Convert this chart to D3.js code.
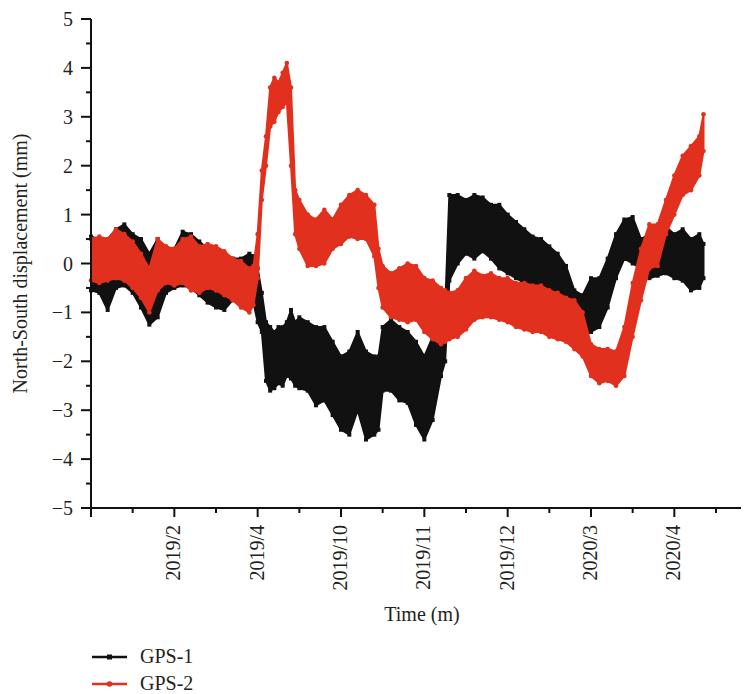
<!DOCTYPE html>
<html>
<head>
<meta charset="utf-8">
<script src="https://cdn.jsdelivr.net/npm/d3@7"></script>
<style>
  html, body { margin: 0; padding: 0; background: #fff; }
  svg text { font-family: "Liberation Serif", "DejaVu Serif", serif; fill: #231f20; }
</style>
</head>
<body>
<div id="chart"></div>
<script>
// time index: one unit per labelled month tick
const tIdx = [0, 0.1, 0.2, 0.3, 0.4, 0.5, 0.6, 0.7, 0.8, 0.9,
  1.0, 1.1, 1.2, 1.3, 1.4, 1.5, 1.6, 1.7, 1.8, 1.9, 1.95,
  2.0, 2.05, 2.1, 2.15, 2.2, 2.25, 2.3, 2.35, 2.4, 2.45, 2.5, 2.6, 2.7, 2.8, 2.9,
  3.0, 3.1, 3.2, 3.3, 3.4, 3.45, 3.5, 3.6, 3.7, 3.8, 3.9,
  4.0, 4.1, 4.2, 4.25, 4.3, 4.4, 4.5, 4.6, 4.7, 4.8, 4.9,
  5.0, 5.1, 5.2, 5.3, 5.4, 5.5, 5.6, 5.7, 5.8, 5.9,
  6.0, 6.1, 6.2, 6.3, 6.4, 6.5, 6.6, 6.7, 6.8, 6.9,
  7.0, 7.1, 7.2, 7.3, 7.35];

// GPS-1 upper / lower envelope of the noisy record (mm)
const gps1Hi = [0.55, 0.5, 0.5, 0.7, 0.8, 0.6, 0.5, 0.2, 0.5, 0.25,
  0.3, 0.65, 0.6, 0.45, 0.3, 0.3, 0.2, 0.1, 0.1, 0.2, 0.15,
  -0.1, -0.6, -1.2, -1.3, -1.4, -1.3, -1.3, -1.2, -0.95, -1.2, -1.1, -1.2, -1.3, -1.3, -1.6,
  -1.9, -1.8, -1.4, -1.8, -1.9, -1.9, -1.3, -1.15, -1.3, -1.4, -1.6,
  -1.9, -1.5, -1.2, -0.9, 1.4, 1.4, 1.3, 1.4, 1.35, 1.2, 1.2,
  1.0, 0.85, 0.7, 0.55, 0.5, 0.35, 0.2, -0.05, -0.55, -0.65,
  -0.3, -0.3, 0.1, 0.6, 0.9, 0.95, 0.5, 0.6, 0.7, 0.75,
  0.6, 0.7, 0.5, 0.6, 0.4];
const gps1Lo = [-0.55, -0.6, -0.95, -0.5, -0.45, -0.6, -0.9, -1.25, -1.1, -0.6,
  -0.5, -0.45, -0.5, -0.65, -0.8, -0.9, -0.95, -0.75, -0.8, -0.85, -0.8,
  -1.2, -1.4, -2.4, -2.6, -2.55, -2.45, -2.5, -2.3, -2.35, -2.5, -2.55, -2.6, -2.9, -2.8, -3.1,
  -3.4, -3.5, -3.0, -3.6, -3.5, -3.4, -2.6, -2.6, -2.8, -2.85, -3.3,
  -3.6, -3.2, -2.3, -2.0, -0.35, 0.0, 0.2, 0.1, 0.25, 0.1, -0.1,
  -0.2, -0.3, -0.4, -0.5, -0.55, -0.6, -0.65, -0.75, -1.2, -1.35,
  -1.4, -1.3, -0.9, -0.3, 0.1, 0.0, -0.1, -0.3, -0.25, -0.2,
  -0.3, -0.35, -0.55, -0.5, -0.3];

// GPS-2 upper / lower envelope (mm)
const gps2Hi = [0.5, 0.55, 0.5, 0.7, 0.6, 0.45, 0.2, -0.1, 0.5, 0.35,
  0.3, 0.5, 0.55, 0.35, 0.4, 0.35, 0.25, 0.1, 0.05, -0.1, -0.05,
  0.6, 1.9, 2.6, 3.6, 3.8, 3.7, 3.9, 4.1, 3.6, 1.5, 1.3, 1.0, 0.9, 1.1, 0.9,
  1.2, 1.4, 1.5, 1.4, 1.2, 0.3, -0.05, -0.2, -0.1, 0.0, -0.05,
  -0.3, -0.35, -0.5, -0.55, -0.6, -0.55, -0.3, -0.15, -0.25, -0.2, -0.3,
  -0.3, -0.4, -0.4, -0.45, -0.45, -0.55, -0.6, -0.7, -0.75, -1.0,
  -1.65, -1.75, -1.75, -1.8, -1.3, -0.4, 0.3, 0.8, 0.8, 1.3,
  1.8, 2.2, 2.4, 2.6, 3.05];
const gps2Lo = [-0.35, -0.4, -0.35, -0.3, -0.35, -0.5, -0.7, -1.0, -0.55, -0.4,
  -0.45, -0.4, -0.55, -0.6, -0.5, -0.55, -0.65, -0.75, -0.9, -1.0, -0.85,
  -0.3, 1.3, 2.0, 2.8, 2.9, 3.1, 3.2, 3.3, 2.0, 0.6, 0.3, -0.05, -0.05, 0.0, 0.3,
  0.4, 0.55, 0.5, 0.5, 0.15, -0.5, -0.9, -1.1, -1.15, -1.2, -1.15,
  -1.4, -1.55, -1.65, -1.6, -1.55, -1.5, -1.35, -1.15, -1.1, -1.1, -1.15,
  -1.2, -1.3, -1.35, -1.4, -1.4, -1.5, -1.55, -1.6, -1.75, -1.9,
  -2.3, -2.45, -2.4, -2.5, -2.3, -1.5, -0.75, -0.1, -0.05, 0.6,
  1.0, 1.4, 1.5, 1.8, 2.3];

const monthLabels = ['', '2019/2', '2019/4', '2019/10', '2019/11', '2019/12', '2020/3', '2020/4'];
const yTicks = [-5, -4, -3, -2, -1, 0, 1, 2, 3, 4, 5];

const width = 744, height = 694;
const plotLeft = 91, plotRight = 741, plotTop = 19, plotBottom = 508;

const svg = d3.select('#chart').append('svg')
  .attr('width', width)
  .attr('height', height);

const x = d3.scaleLinear().domain([0, 7.8]).range([plotLeft, plotRight]);
const y = d3.scaleLinear().domain([-5, 5]).range([plotBottom, plotTop]);

const series = [
  { name: 'GPS-1', hi: gps1Hi, lo: gps1Lo, color: '#111111', marker: 'square' },
  { name: 'GPS-2', hi: gps2Hi, lo: gps2Lo, color: '#e1301d', marker: 'circle' }
];

const plot = svg.append('g');

series.forEach(s => {
  const rows = tIdx.map((t, i) => ({ t, hi: s.hi[i], lo: s.lo[i] }));
  const band = d3.area()
    .x(d => x(d.t))
    .y0(d => y(d.lo))
    .y1(d => y(d.hi));

  plot.append('path')
    .datum(rows)
    .attr('d', band)
    .attr('fill', s.color)
    .attr('stroke', s.color)
    .attr('stroke-width', 2)
    .attr('stroke-linejoin', 'round');

  // markers along the edges of the band
  const pts = rows.flatMap(d => [{ t: d.t, v: d.hi }, { t: d.t, v: d.lo }]);
  if (s.marker === 'square') {
    plot.append('g').selectAll('rect')
      .data(pts).enter().append('rect')
      .attr('x', d => x(d.t) - 2)
      .attr('y', d => y(d.v) - 2)
      .attr('width', 4).attr('height', 4)
      .attr('fill', s.color);
  } else {
    plot.append('g').selectAll('circle')
      .data(pts).enter().append('circle')
      .attr('cx', d => x(d.t))
      .attr('cy', d => y(d.v))
      .attr('r', 2.3)
      .attr('fill', s.color);
  }
});

// y axis
const yAxis = svg.append('g').attr('transform', `translate(${plotLeft},0)`);
yAxis.append('line')
  .attr('x1', 0).attr('x2', 0)
  .attr('y1', y(5)).attr('y2', y(-5) + 1)
  .attr('stroke', '#111').attr('stroke-width', 2);
yAxis.selectAll('.major').data(yTicks).enter().append('line')
  .attr('x1', -10).attr('x2', 0)
  .attr('y1', d => y(d)).attr('y2', d => y(d))
  .attr('stroke', '#111').attr('stroke-width', 2);
yAxis.selectAll('.minor').data(yTicks.slice(0, -1).map(d => d + 0.5)).enter().append('line')
  .attr('x1', -5).attr('x2', 0)
  .attr('y1', d => y(d)).attr('y2', d => y(d))
  .attr('stroke', '#111').attr('stroke-width', 2);
yAxis.selectAll('text').data(yTicks).enter().append('text')
  .attr('x', -18)
  .attr('y', d => y(d))
  .attr('dy', '0.35em')
  .attr('text-anchor', 'end')
  .style('font-size', '20px')
  .text(d => d < 0 ? '\u2212' + Math.abs(d) : d);

// x axis
const xAxis = svg.append('g').attr('transform', `translate(0,${plotBottom})`);
xAxis.append('line')
  .attr('x1', plotLeft - 1).attr('x2', plotRight)
  .attr('y1', 0).attr('y2', 0)
  .attr('stroke', '#111').attr('stroke-width', 2);
xAxis.selectAll('.major').data(d3.range(0, 8)).enter().append('line')
  .attr('x1', d => x(d)).attr('x2', d => x(d))
  .attr('y1', 0).attr('y2', 9)
  .attr('stroke', '#111').attr('stroke-width', 2);
xAxis.selectAll('.minor').data(d3.range(0, 8).map(d => d + 0.5)).enter().append('line')
  .attr('x1', d => x(d)).attr('x2', d => x(d))
  .attr('y1', 0).attr('y2', 5)
  .attr('stroke', '#111').attr('stroke-width', 2);
xAxis.selectAll('text').data(monthLabels).enter().append('text')
  .attr('transform', (d, i) => `translate(${x(i)},17) rotate(-90)`)
  .attr('dy', '0.3em')
  .attr('text-anchor', 'end')
  .style('font-size', '20px')
  .text(d => d);

// axis titles
svg.append('text')
  .attr('transform', `translate(27,${(plotTop + plotBottom) / 2}) rotate(-90)`)
  .attr('text-anchor', 'middle')
  .style('font-size', '20px')
  .text('North-South displacement (mm)');

svg.append('text')
  .attr('x', 422)
  .attr('y', 621)
  .attr('text-anchor', 'middle')
  .style('font-size', '20px')
  .text('Time (m)');

// legend
const legend = svg.append('g');
series.forEach((s, i) => {
  const ly = 657 + i * 27;
  legend.append('line')
    .attr('x1', 92).attr('x2', 127)
    .attr('y1', ly).attr('y2', ly)
    .attr('stroke', s.color).attr('stroke-width', 2.5);
  if (s.marker === 'square') {
    legend.append('rect')
      .attr('x', 107).attr('y', ly - 2.5)
      .attr('width', 5).attr('height', 5)
      .attr('fill', s.color);
  } else {
    legend.append('circle')
      .attr('cx', 109.5).attr('cy', ly).attr('r', 2.8)
      .attr('fill', s.color);
  }
  legend.append('text')
    .attr('x', 140)
    .attr('y', ly + 6)
    .style('font-size', '20px')
    .text(s.name);
});
</script>
</body>
</html>
